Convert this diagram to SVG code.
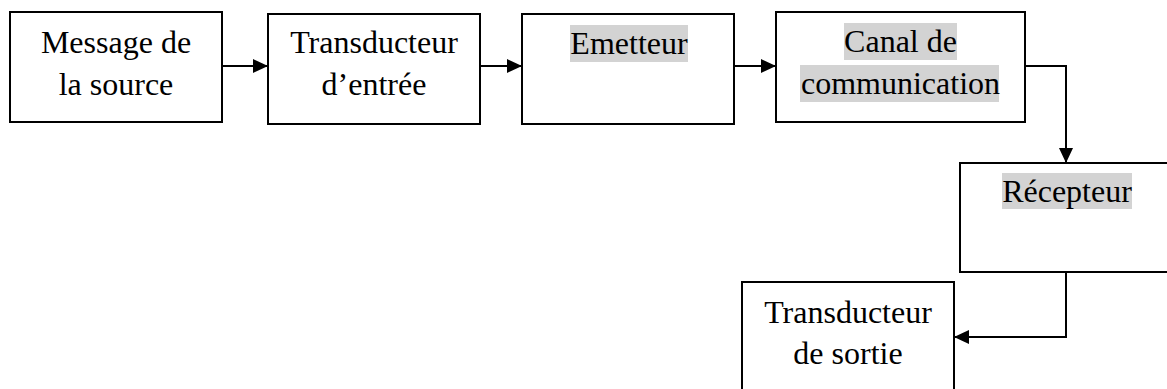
<svg xmlns="http://www.w3.org/2000/svg" width="1167" height="389" viewBox="0 0 1167 389">
<style>
.box{fill:#fff;stroke:#000;stroke-width:2}
.t{font-family:"Liberation Serif","Times New Roman",serif;font-size:32px;fill:#000;text-anchor:middle}
.hl{fill:#d3d3d3}
.c{fill:none;stroke:#000;stroke-width:2}
</style>
<defs>
<marker id="ah" viewBox="0 0 15 14" refX="15" refY="7" markerWidth="15" markerHeight="14" markerUnits="userSpaceOnUse" orient="auto">
<path d="M0,0 L15,7 L0,14 Z" fill="#000"/>
</marker>
</defs>
<rect width="1167" height="389" fill="#fff"/>
<g id="n1">
<rect class="box" x="10" y="12" width="212" height="110"/>
<text class="t" x="116" y="53">Message de</text>
<text class="t" x="116" y="95">la source</text>
</g>
<g id="n2">
<rect class="box" x="268" y="14" width="212" height="110"/>
<text class="t" x="374" y="53">Transducteur</text>
<text class="t" x="374" y="95">d’entrée</text>
</g>
<g id="n3">
<rect class="box" x="522" y="14" width="212" height="110"/>
<rect class="hl" x="570" y="25" width="118" height="37"/>
<text class="t" x="629" y="54">Emetteur</text>
</g>
<g id="n4">
<rect class="box" x="776" y="12" width="249" height="110"/>
<rect class="hl" x="844" y="23" width="113" height="37"/>
<rect class="hl" x="800" y="65" width="199" height="37"/>
<text class="t" x="900.5" y="52">Canal de</text>
<text class="t" x="900.5" y="94">communication</text>
</g>
<g id="n5">
<rect class="box" x="960" y="163" width="216" height="109"/>
<rect class="hl" x="1002" y="173" width="130" height="36"/>
<text class="t" x="1067" y="202">Récepteur</text>
</g>
<g id="n6">
<rect class="box" x="742" y="282" width="212" height="120"/>
<text class="t" x="848" y="323">Transducteur</text>
<text class="t" x="848" y="364">de sortie</text>
</g>
<g id="connectors">
<path class="c" d="M223,66 H268" marker-end="url(#ah)"/>
<path class="c" d="M481,66 H522" marker-end="url(#ah)"/>
<path class="c" d="M735,66 H776" marker-end="url(#ah)"/>
<path class="c" d="M1026,66 H1066 V163" marker-end="url(#ah)"/>
<path class="c" d="M1066,273 V337 H954" marker-end="url(#ah)"/>
</g>
</svg>
